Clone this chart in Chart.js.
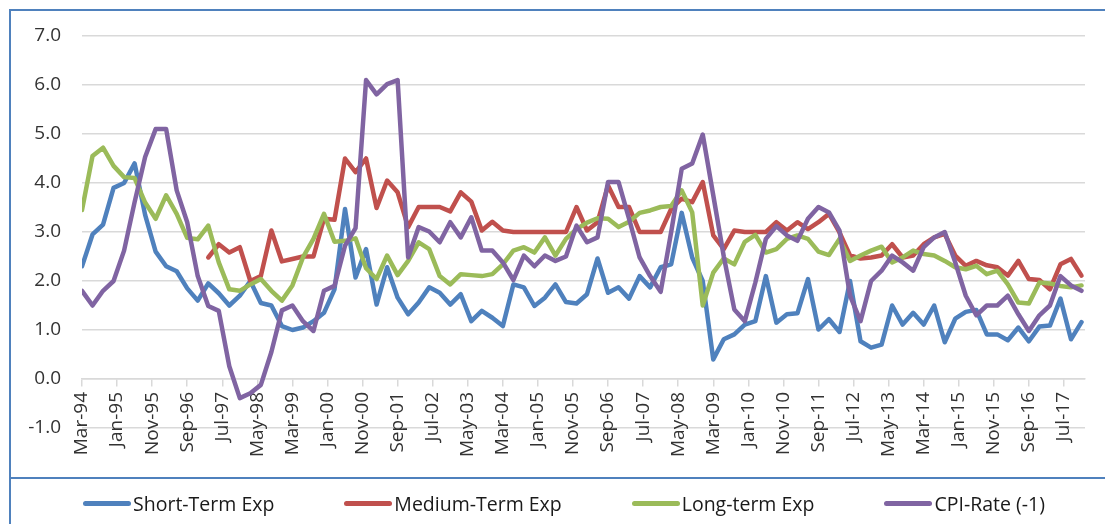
<!DOCTYPE html>
<html>
<head>
<meta charset="utf-8">
<title>Inflation expectations vs CPI</title>
<script src="https://cdn.jsdelivr.net/npm/chart.js@4/dist/chart.umd.min.js"></script>
<style>
  body { margin: 0; background: #fff; }
  #wrap { position: relative; width: 1105px; height: 524px; overflow: hidden; }
  #frame {
    position: absolute; left: 9px; top: 9px; width: 1200px; height: 466px;
    border-left: 2px solid #4F81BD; border-top: 2px solid #4F81BD; border-bottom: 2px solid #4F81BD;
  }
  #legendBox {
    position: absolute; left: 9px; top: 478px; width: 1200px; height: 60px;
    border-left: 2px solid #4F81BD;
  }
  #chart { position: absolute; left: 0; top: 0; }
  #legend {
    position: absolute; left: 0; top: 490px; width: 1128px; height: 26px;
    display: flex; align-items: center; justify-content: center; gap: 70px;
    font-family: "Open Sans", sans-serif; font-size: 19.5px; color: #1a1a1a;
  }
  .item { display: flex; align-items: center; white-space: nowrap; }
  .swatch { width: 48px; height: 5px; border-radius: 2.5px; margin-right: 2px; }
</style>
</head>
<body>
<div id="wrap">
  <div id="frame"></div>
  <div id="legendBox"></div>
  <canvas id="chart" width="1105" height="524"></canvas>
  <div id="legend"></div>
</div>
<script>
// ============================
// Data (quarterly, Mar-94 .. Dec-17)
// ============================
const tickLabels = [
  "Mar-94", "Jan-95", "Nov-95", "Sep-96", "Jul-97", "May-98", "Mar-99", "Jan-00",
  "Nov-00", "Sep-01", "Jul-02", "May-03", "Mar-04", "Jan-05", "Nov-05", "Sep-06",
  "Jul-07", "May-08", "Mar-09", "Jan-10", "Nov-10", "Sep-11", "Jul-12", "May-13",
  "Mar-14", "Jan-15", "Nov-15", "Sep-16", "Jul-17",
];

const shortTerm = [
  2.3, 2.95, 3.15, 3.9, 4.0, 4.4, 3.35, 2.6, 2.3, 2.2, 1.85, 1.6, 1.95, 1.75, 1.5, 1.7, 2.0, 1.55, 1.5,
  1.08, 1.0, 1.05, 1.18, 1.35, 1.83, 3.47, 2.07, 2.65, 1.52, 2.28, 1.66, 1.32, 1.56, 1.87, 1.76, 1.52, 1.73, 1.18,
  1.39, 1.25, 1.08, 1.93, 1.87, 1.49, 1.66, 1.93, 1.57, 1.54, 1.73, 2.46, 1.76, 1.87, 1.64, 2.1, 1.87, 2.28, 2.34,
  3.39, 2.48, 2.0, 0.4, 0.81, 0.91, 1.11, 1.18, 2.1, 1.15, 1.32, 1.34, 2.04, 1.01, 1.22, 0.96, 2.0, 0.77, 0.64,
  0.7, 1.5, 1.11, 1.35, 1.11, 1.5, 0.75, 1.23, 1.37, 1.41, 0.91, 0.91, 0.79, 1.05, 0.77, 1.07, 1.09, 1.64, 0.81, 1.16,
];

const mediumTerm = [
  null, null, null, null, null, null, null, null, null, null, null, null,
  2.48, 2.75, 2.58, 2.69, 2.0, 2.1, 3.03,
  2.4, 2.45, 2.5, 2.5, 3.27, 3.25, 4.5, 4.22, 4.5, 3.49, 4.05, 3.81, 3.1, 3.51, 3.51, 3.51, 3.42, 3.81, 3.62,
  3.03, 3.21, 3.03, 3.0, 3.0, 3.0, 3.0, 3.0, 3.0, 3.51, 3.03, 3.2, 3.95, 3.51, 3.51, 3.0, 3.0, 3.0, 3.47,
  3.68, 3.61, 4.02, 2.93, 2.65, 3.03, 3.0, 3.0, 3.0, 3.2, 3.03, 3.2, 3.06, 3.2, 3.37, 2.99, 2.52, 2.46, 2.48,
  2.52, 2.75, 2.48, 2.52, 2.75, 2.89, 2.96, 2.52, 2.31, 2.41, 2.32, 2.28, 2.11, 2.41, 2.04, 2.02, 1.83, 2.34, 2.45, 2.11,
];

const longTerm = [
  3.45, 4.55, 4.72, 4.35, 4.12, 4.1, 3.6, 3.27, 3.75, 3.37, 2.88, 2.85, 3.13, 2.38, 1.83, 1.8, 1.93, 2.04, 1.8,
  1.6, 1.91, 2.48, 2.86, 3.37, 2.8, 2.82, 2.87, 2.26, 2.04, 2.52, 2.12, 2.41, 2.79, 2.65, 2.1, 1.93, 2.14, 2.12,
  2.1, 2.14, 2.34, 2.62, 2.69, 2.58, 2.89, 2.52, 2.86, 3.06, 3.19, 3.28, 3.27, 3.1, 3.21, 3.39, 3.44, 3.51, 3.53,
  3.85, 3.4, 1.5, 2.17, 2.46, 2.34, 2.8, 2.94, 2.58, 2.65, 2.86, 2.93, 2.86, 2.6, 2.53, 2.86, 2.41, 2.52, 2.62,
  2.7, 2.38, 2.48, 2.62, 2.55, 2.52, 2.41, 2.28, 2.24, 2.31, 2.14, 2.21, 1.93, 1.56, 1.54, 1.97, 1.95, 1.9, 1.87, 1.91,
];

const cpiRate = [
  1.8, 1.5, 1.8, 2.0, 2.62, 3.61, 4.53, 5.1, 5.1, 3.85, 3.2, 2.1, 1.49, 1.39, 0.26, -0.39, -0.29, -0.12, 0.55,
  1.4, 1.5, 1.18, 0.98, 1.8, 1.9, 2.72, 3.08, 6.1, 5.81, 6.02, 6.1, 2.48, 3.1, 3.01, 2.79, 3.2, 2.89, 3.3,
  2.62, 2.62, 2.38, 2.02, 2.52, 2.3, 2.52, 2.41, 2.5, 3.13, 2.79, 2.89, 4.02, 4.02, 3.27, 2.48, 2.1, 1.78, 3.0,
  4.29, 4.4, 4.99, 3.75, 2.5, 1.42, 1.18, 1.97, 2.86, 3.12, 2.93, 2.82, 3.27, 3.51, 3.4, 3.03, 1.7, 1.18, 2.0,
  2.21, 2.52, 2.38, 2.21, 2.69, 2.89, 3.0, 2.38, 1.7, 1.3, 1.5, 1.5, 1.7, 1.32, 0.98, 1.3, 1.5, 2.1, 1.91, 1.8,
];

const seriesNames = ["Short-Term Exp", "Medium-Term Exp", "Long-term Exp", "CPI-Rate (-1)"];
const seriesColors = ["#4F81BD", "#C0504D", "#9BBB59", "#8064A2"];
const seriesValues = [shortTerm, mediumTerm, longTerm, cpiRate];

// one observation every 3 months, x axis counts months since Mar-94
const MONTHS_PER_OBS = 3;
const GRID = "#d9d9d9";
const TEXT = "#333333";

function toPoints(values) {
  return values.map((v, i) => ({ x: i * MONTHS_PER_OBS, y: v }));
}

const datasets = seriesValues.map((values, i) => ({
  label: seriesNames[i],
  data: toPoints(values),
  borderColor: seriesColors[i],
  backgroundColor: seriesColors[i],
  order: seriesValues.length - i, // last series on top, like Excel
}));

new Chart(document.getElementById("chart"), {
  type: "line",
  data: { datasets },
  options: {
    responsive: false,
    animation: false,
    layout: { padding: { left: 0, right: 20, top: 36, bottom: 96 } },
    plugins: { legend: { display: false }, tooltip: { enabled: false } },
    elements: {
      point: { radius: 0 },
      line: { borderWidth: 4.5, tension: 0, borderJoinStyle: "round", borderCapStyle: "round" },
    },
    scales: {
      x: {
        type: "linear",
        position: { y: 0 },
        min: 0,
        max: 286,
        afterFit(scale) { scale.height = 1; },
        grid: { drawOnChartArea: false, drawTicks: true, tickLength: 7, color: GRID, lineWidth: 1.5 },
        border: { display: true, color: GRID, width: 1.5 },
        ticks: {
          stepSize: 10,
          autoSkip: false,
          includeBounds: false,
          minRotation: 90,
          maxRotation: 90,
          padding: 6,
          color: TEXT,
          font: { family: "Open Sans", size: 19 },
          callback: (v) => tickLabels[Math.round(v / 10)],
        },
      },
      y: {
        min: -1,
        max: 7,
        afterFit(scale) { scale.width = 82; },
        grid: { color: GRID, lineWidth: 1.5, drawTicks: false },
        border: { display: false },
        ticks: {
          stepSize: 1,
          padding: 21,
          color: TEXT,
          font: { family: "Open Sans", size: 19 },
          callback: (v) => v.toFixed(1),
        },
      },
    },
  },
});

// legend below the plot
const legend = document.getElementById("legend");
seriesNames.forEach((name, i) => {
  const item = document.createElement("div");
  item.className = "item";
  item.innerHTML = `<span class="swatch" style="background:${seriesColors[i]}"></span><span>${name}</span>`;
  legend.appendChild(item);
});
</script>
</body>
</html>
